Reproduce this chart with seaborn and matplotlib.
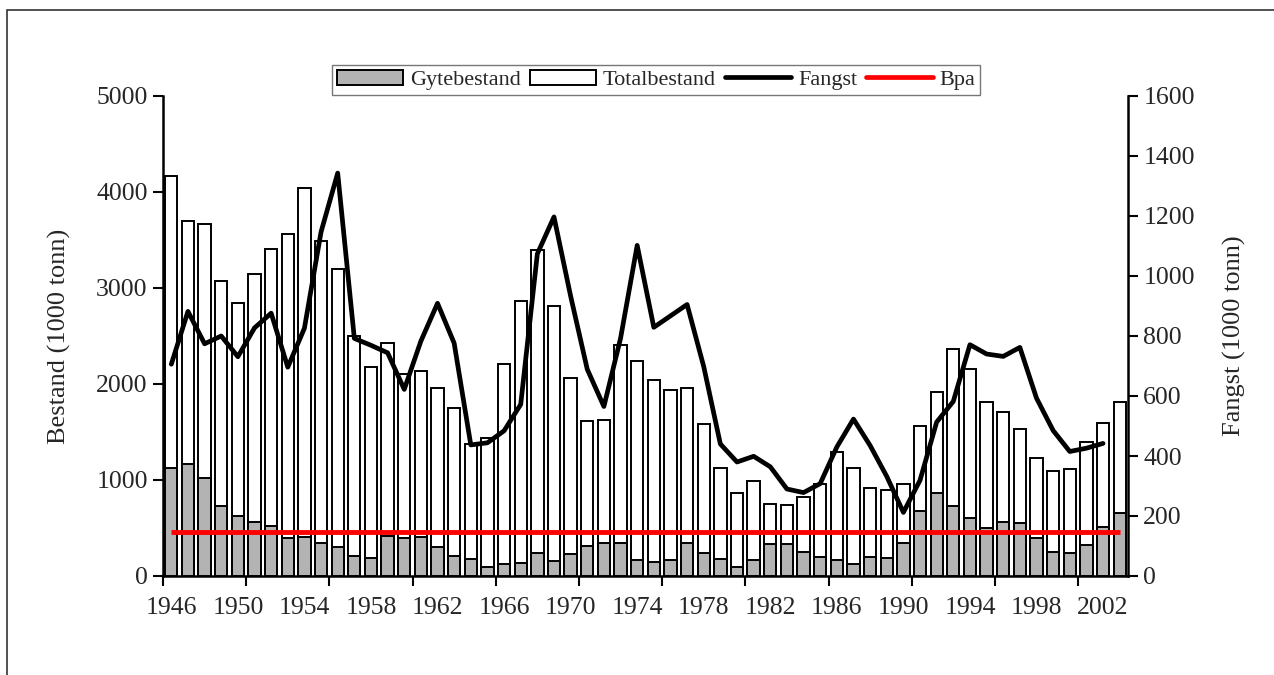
import numpy as np
import pandas as pd
import matplotlib
matplotlib.use("Agg")
import matplotlib.pyplot as plt
import seaborn as sns
from matplotlib.patches import Patch, Rectangle
from matplotlib.lines import Line2D

# --- data (1000 tonn) ---
years = list(range(1946, 2004))
totalbestand = [4170, 3700, 3670, 3070, 2840, 3150, 3410, 3560, 4045, 3490,
                3195, 2500, 2175, 2425, 2100, 2140, 1960, 1750, 1375, 1435,
                2205, 2865, 3395, 2810, 2065, 1615, 1625, 2405, 2240, 2040,
                1940, 1955, 1585, 1120, 860, 985, 750, 740, 825, 960,
                1295, 1120, 915, 895, 960, 1565, 1915, 2360, 2155, 1815,
                1705, 1530, 1225, 1095, 1110, 1400, 1595, 1815]
gytebestand = [1120, 1165, 1025, 730, 620, 565, 525, 400, 410, 345,
               305, 210, 190, 420, 395, 410, 305, 208, 177, 97,
               122, 132, 236, 156, 226, 312, 347, 340, 167, 149,
               167, 347, 243, 174, 97, 167, 330, 330, 253, 194,
               167, 122, 194, 191, 340, 677, 868, 733, 601, 503,
               566, 549, 392, 253, 236, 323, 514, 653]
# catch 1946-2002
fangst = [706, 882, 774, 800, 731, 827, 876, 696, 826, 1147,
          1343, 792, 769, 744, 622, 783, 909, 776, 437, 444,
          484, 572, 1074, 1197, 933, 689, 565, 792, 1102, 829,
          867, 905, 698, 440, 380, 399, 364, 290, 278, 308,
          430, 523, 435, 332, 212, 319, 513, 582, 771, 740,
          732, 762, 593, 485, 415, 426, 442]
bpa = 460

df = pd.DataFrame({"year": [str(y) for y in years],
                   "total": totalbestand, "ssb": gytebestand})
df_f = pd.DataFrame({"pos": np.arange(len(fangst)), "fangst": fangst})

sns.set_style("white")
plt.rcParams["font.family"] = ["Liberation Serif", "DejaVu Serif"]

fig = plt.figure(figsize=(12.74, 6.75), dpi=100)
ax = fig.add_axes([163 / 1274, 1 - 576 / 675, (1128 - 163) / 1274, (576 - 96) / 675])

sns.barplot(data=df, x="year", y="total", color="white", edgecolor="black",
            linewidth=1.4, width=0.74, saturation=1, errorbar=None, ax=ax, zorder=2)
sns.barplot(data=df, x="year", y="ssb", color="#b3b3b3", edgecolor="black",
            linewidth=1.4, width=0.74, saturation=1, errorbar=None, ax=ax, zorder=3)

# Bpa line across all years
ax.plot([0, len(years) - 1], [bpa, bpa], color="#ff0000", lw=3.5, zorder=5,
        solid_capstyle="butt")

ax.set_xlim(-0.5, len(years) - 0.5)
ax.set_ylim(0, 5000)
ax.set_yticks(np.arange(0, 5001, 1000))
ax.set_ylabel("Bestand (1000 tonn)", fontsize=19, labelpad=18)
ax.set_xlabel("")

# ticks between categories every 5, labels every 4 years
ax.set_xticks(np.arange(-0.5, len(years), 5))
ax.set_xticklabels([])
ax.set_xticks(np.arange(0, len(years), 4), minor=True)
ax.set_xticklabels([str(years[i]) for i in range(0, len(years), 4)], minor=True)
ax.tick_params(axis="x", which="major", direction="out", length=7, width=1.5,
               color="black", bottom=True)
ax.tick_params(axis="x", which="minor", length=0, pad=15, labelsize=18.5)
ax.tick_params(axis="y", direction="out", length=7, width=1.5, color="black",
               labelsize=18.5, left=True, pad=4)

for side in ["top", "right"]:
    ax.spines[side].set_visible(False)
for side in ["left", "bottom"]:
    ax.spines[side].set_color("black")
    ax.spines[side].set_linewidth(1.8)

ax2 = ax.twinx()
sns.lineplot(data=df_f, x="pos", y="fangst", color="black", lw=3.4, ax=ax2)
ax2.set_ylim(0, 1600)
ax2.set_yticks(np.arange(0, 1601, 200))
ax2.set_ylabel("Fangst (1000 tonn)", fontsize=19, labelpad=20)
ax2.set_xlabel("")
ax2.tick_params(axis="y", direction="out", length=7, width=1.5, color="black",
                labelsize=18.5, right=True, pad=4)
for side in ["top", "left", "bottom"]:
    ax2.spines[side].set_visible(False)
ax2.spines["right"].set_color("black")
ax2.spines["right"].set_linewidth(1.8)
ax2.set_xlim(-0.5, len(years) - 0.5)

handles = [Patch(facecolor="#b3b3b3", edgecolor="black", linewidth=1.4),
           Patch(facecolor="white", edgecolor="black", linewidth=1.4),
           Line2D([], [], color="black", lw=3.4),
           Line2D([], [], color="#ff0000", lw=3.4)]
labels = ["Gytebestand", "Totalbestand", "Fangst", "Bpa"]
leg = fig.legend(handles, labels, loc="center", bbox_to_anchor=(656 / 1274, 1 - 80 / 675),
                 ncol=4, fontsize=16, frameon=True, fancybox=False,
                 handlelength=3.0, handleheight=0.7, handletextpad=0.3,
                 columnspacing=0.4, borderpad=0.2, borderaxespad=0)
leg.get_frame().set_edgecolor("#555555")
leg.get_frame().set_linewidth(1.0)

# outer chart frame
fig.patches.append(Rectangle((7 / 1274, -0.1), 1.2, 1.1 - 10 / 675, fill=False,
                             edgecolor="#333333", linewidth=1.2,
                             transform=fig.transFigure, figure=fig))

fig.savefig("out.png", dpi=100)
